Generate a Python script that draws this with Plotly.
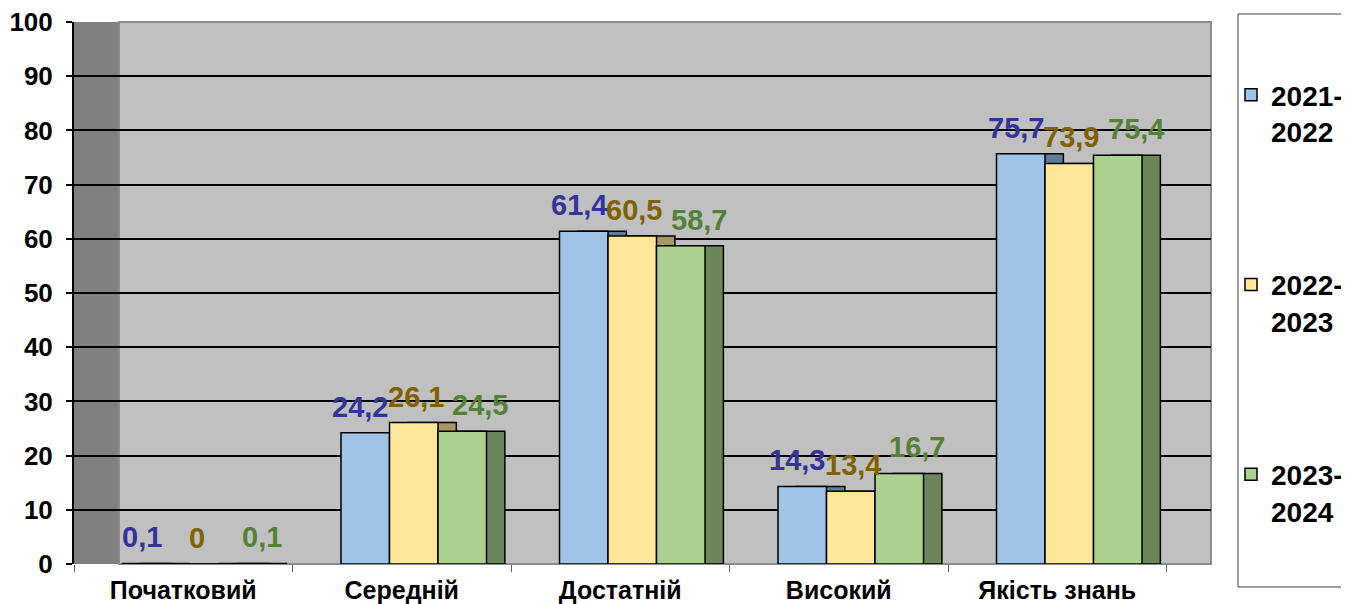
import plotly.graph_objects as go

categories = ["Початковий", "Середній", "Достатній", "Високий", "Якість знань"]
series_names = ["2021-<br>2022", "2022-<br>2023", "2023-<br>2024"]
values_2021_2022 = [0.1, 24.2, 61.4, 14.3, 75.7]
values_2022_2023 = [0.0, 26.1, 60.5, 13.4, 73.9]
values_2023_2024 = [0.1, 24.5, 58.7, 16.7, 75.4]
label_2021_2022 = ["0,1", "24,2", "61,4", "14,3", "75,7"]
label_2022_2023 = ["0", "26,1", "60,5", "13,4", "73,9"]
label_2023_2024 = ["0,1", "24,5", "58,7", "16,7", "75,4"]

all_values = [values_2021_2022, values_2022_2023, values_2023_2024]
all_labels = [label_2021_2022, label_2022_2023, label_2023_2024]

front_colors = ["#A0C4E8", "#FFE699", "#AAD28E"]
side_colors = ["#5F7D9B", "#AA9664", "#6B875A"]
label_colors = ["#333399", "#806000", "#548235"]
label_xshift = [-5, 2, 18]

FONT = "Liberation Sans, Arial, sans-serif"
BAR_W = 0.222
DEPTH = 0.084
OFFSETS = [-0.278, -0.056, 0.166]

# page has an 8px body margin
OFF = 8
W, H = 1349 - OFF, 604 - OFF
plot_left, plot_right, plot_top, plot_bottom = 74 - OFF, 1211 - OFF, 22 - OFF, 564 - OFF
L, R, T, B = plot_left, W - plot_right, plot_top, H - plot_bottom
plot_w = plot_right - plot_left
plot_h = plot_bottom - plot_top
cat_px = 218.5
extra = plot_w / cat_px - len(categories)


def px_x(page_x):
    return (page_x - OFF - plot_left) / plot_w


def px_y(page_y):
    return (plot_bottom - (page_y - OFF)) / plot_h


fig = go.Figure()

# side faces (drawn first, behind)
for k in range(3):
    fig.add_trace(go.Bar(
        x=categories, y=all_values[k], offset=OFFSETS[k] + DEPTH, width=BAR_W,
        marker=dict(color=side_colors[k], line=dict(color="black", width=1.5)),
        showlegend=False, legendgroup=f"g{k}", hoverinfo="skip", opacity=1,
    ))
# front faces
for k in range(3):
    fig.add_trace(go.Bar(
        x=categories, y=all_values[k], offset=OFFSETS[k], width=BAR_W,
        name=series_names[k], legendgroup=f"g{k}",
        marker=dict(color=front_colors[k], line=dict(color="black", width=1.5)),
        opacity=1,
    ))

# data labels
for k in range(3):
    for i, (v, t) in enumerate(zip(all_values[k], all_labels[k])):
        fig.add_annotation(
            x=i + OFFSETS[k] + BAR_W / 2, y=v, text=t, showarrow=False,
            xanchor="center", yanchor="middle", xshift=label_xshift[k], yshift=26,
            font=dict(family=FONT, size=29, color=label_colors[k], weight="bold"),
        )

wall_frac = 45 / plot_w
# left dark wall
fig.add_shape(type="rect", xref="paper", yref="paper", x0=0, x1=wall_frac, y0=0, y1=1,
              fillcolor="#808080", line=dict(width=0), layer="below")
# back wall outline
fig.add_shape(type="rect", xref="paper", yref="paper", x0=wall_frac, x1=1, y0=0, y1=1,
              fillcolor="rgba(0,0,0,0)", line=dict(color="#8C8C8C", width=2), layer="below")
# legend box
fig.add_shape(type="rect", xref="paper", yref="paper",
              x0=px_x(1238), x1=px_x(1370), y0=px_y(587), y1=px_y(14),
              fillcolor="rgba(0,0,0,0)", line=dict(color="#404040", width=1))

fig.update_layout(
    width=W, height=H,
    margin=dict(l=L, r=R, t=T, b=B, autoexpand=False),
    paper_bgcolor="white", plot_bgcolor="#C0C0C0",
    barmode="overlay",
    font=dict(family=FONT, color="black"),
    legend=dict(
        x=px_x(1231), xanchor="left", y=px_y(70), yanchor="top",
        traceorder="grouped", tracegroupgap=114, valign="top", itemwidth=30,
        font=dict(family=FONT, size=28, color="black", weight="bold"),
        bgcolor="rgba(0,0,0,0)", borderwidth=0,
    ),
    xaxis=dict(
        type="category", range=[-0.5, len(categories) - 0.5 + extra],
        showgrid=False, showline=False, zeroline=False, automargin=False,
        ticks="outside", tickson="boundaries", ticklen=7, tickcolor="#606060", tickwidth=1,
        tickfont=dict(family=FONT, size=25, color="black", weight="bold"),
        ticklabelstandoff=9, ticklabeloverflow="allow",
    ),
    yaxis=dict(
        range=[0, 100], tickmode="array", tickvals=list(range(0, 101, 10)),
        ticktext=[str(v) for v in range(0, 101, 10)], automargin=False,
        showgrid=True, gridcolor="black", gridwidth=2,
        showline=True, linecolor="black", linewidth=2,
        zeroline=False,
        ticks="outside", ticklen=6, tickcolor="black", tickwidth=1.5,
        tickfont=dict(family=FONT, size=26, color="black", weight="bold"),
        ticklabelstandoff=8, ticklabeloverflow="allow",
    ),
)

fig.write_html("out.html")
